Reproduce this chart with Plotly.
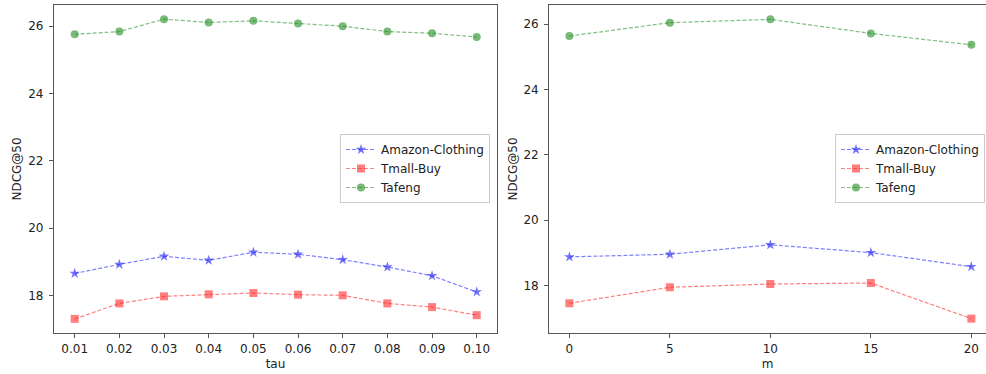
import plotly.graph_objects as go

# ---- data ----
tau_values = [0.01, 0.02, 0.03, 0.04, 0.05, 0.06, 0.07, 0.08, 0.09, 0.10]
tau_labels = ["0.01", "0.02", "0.03", "0.04", "0.05", "0.06", "0.07", "0.08", "0.09", "0.10"]
tau_amazon = [18.65, 18.92, 19.16, 19.04, 19.28, 19.22, 19.06, 18.84, 18.58, 18.10]
tau_tmall = [17.30, 17.76, 17.97, 18.03, 18.07, 18.02, 18.00, 17.76, 17.65, 17.41]
tau_tafeng = [25.76, 25.84, 26.21, 26.11, 26.16, 26.08, 26.00, 25.84, 25.79, 25.68]

m_values = [0, 5, 10, 15, 20]
m_labels = ["0", "5", "10", "15", "20"]
m_amazon = [18.88, 18.96, 19.25, 19.01, 18.58]
m_tmall = [17.46, 17.95, 18.05, 18.08, 16.99]
m_tafeng = [25.64, 26.05, 26.15, 25.72, 25.37]

series_names = ["Amazon-Clothing", "Tmall-Buy", "Tafeng"]
line_colors = ["rgba(0,0,255,0.5)", "rgba(255,0,0,0.5)", "rgba(0,128,0,0.5)"]
marker_colors = ["rgba(40,40,245,0.65)", "rgba(255,40,40,0.6)", "rgba(30,140,30,0.6)"]
marker_symbols = ["star", "square", "circle"]
marker_sizes = [8, 8, 8]

fig = go.Figure()

panels = [
    ("x", "y", tau_values, [tau_amazon, tau_tmall, tau_tafeng], "legend"),
    ("x2", "y2", m_values, [m_amazon, m_tmall, m_tafeng], "legend2"),
]
for xa, ya, xs, ys_list, lg in panels:
    for name, ys, lc, mc, sym, ms in zip(series_names, ys_list, line_colors,
                                          marker_colors, marker_symbols, marker_sizes):
        fig.add_trace(go.Scatter(
            x=xs, y=ys, name=name, xaxis=xa, yaxis=ya, legend=lg,
            mode="lines+markers",
            line=dict(color=lc, width=1.2, dash="4px,2px"),
            marker=dict(symbol=sym, size=ms, color=mc, line=dict(width=0)),
        ))

font_color = "#222222"
axis_common = dict(
    showline=True, linecolor="#555555", linewidth=1.3,
    ticks="outside", ticklen=4, tickwidth=1, tickcolor="#555555",
    showgrid=False, zeroline=False, automargin=False,
    tickfont=dict(family="DejaVu Sans", size=12, color=font_color),
)

y0, y1 = 1 - 333 / 374, 1 - 5 / 374

fig.update_layout(
    width=986, height=374,
    margin=dict(l=0, r=0, t=0, b=0, autoexpand=False),
    paper_bgcolor="white", plot_bgcolor="white",
    font=dict(family="DejaVu Sans", size=12, color=font_color),
    xaxis=dict(axis_common, domain=[54 / 986, 497 / 986], range=[0.00537, 0.10454],
               tickvals=tau_values, ticktext=tau_labels, mirror=True, anchor="y",
               title=dict(text="tau", standoff=5, font=dict(size=12))),
    yaxis=dict(axis_common, domain=[y0, y1], range=[16.88, 26.63],
               tickvals=[18, 20, 22, 24, 26], mirror=True, anchor="x",
               ticklabelstandoff=3,
               title=dict(text="NDCG@50", standoff=3, font=dict(size=12))),
    xaxis2=dict(axis_common, domain=[549.3 / 986, 1.0], range=[-1.0, 20.73],
                tickvals=m_values, ticktext=m_labels, mirror=True, anchor="y2",
                title=dict(text="m", standoff=5, font=dict(size=12))),
    yaxis2=dict(axis_common, domain=[y0, y1], range=[16.55, 26.59],
                tickvals=[18, 20, 22, 24, 26], anchor="x2",
                ticklabelstandoff=3,
                title=dict(text="NDCG@50", standoff=3, font=dict(size=12))),
    legend=dict(x=340 / 986, y=1 - 134 / 374, xanchor="left", yanchor="top",
                bordercolor="#cccccc", borderwidth=1, bgcolor="rgba(255,255,255,0.8)",
                font=dict(size=12, color=font_color), tracegroupgap=0),
    legend2=dict(x=835 / 986, y=1 - 134 / 374, xanchor="left", yanchor="top",
                 bordercolor="#cccccc", borderwidth=1, bgcolor="rgba(255,255,255,0.8)",
                 font=dict(size=12, color=font_color), tracegroupgap=0),
)

fig.write_html("out.html",
               config={"displayModeBar": False},
               post_script="document.body.style.margin='0';document.body.style.overflow='hidden';")
